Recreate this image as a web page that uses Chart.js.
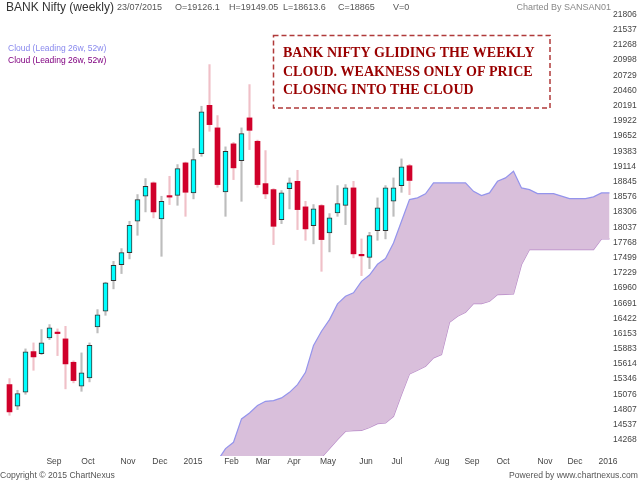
<!DOCTYPE html>
<html>
<head>
<meta charset="utf-8">
<script src="https://cdn.jsdelivr.net/npm/chart.js@4.4.1/dist/chart.umd.min.js"></script>
<style>
  html, body { margin: 0; padding: 0; background: #fff; }
  canvas { display: block; }
</style>
</head>
<body>
<canvas id="chart" width="640" height="480"></canvas>
<script>
// weekly candles, index 0 = first week shown (Aug 2014), last = 23/07/2015
const opens = [15250, 14866, 15114, 15834, 15799, 16077, 16171, 16059, 15645, 15220,
  15368, 16272, 16548, 17092, 17375, 17588, 18142, 18585, 18822, 18184,
  18590, 18602, 19176, 18645, 19341, 20196, 19796, 18663, 19513, 19217,
  19973, 19559, 18809, 18703, 18172, 18721, 18850, 18397, 18066, 18420,
  17936, 18291, 18425, 18733, 17555, 17504, 17977, 17977, 18496, 18774, 19126.1];
const highs = [15356, 15149, 15882, 15988, 16224, 16312, 16236, 16282, 15670, 15811,
  15988, 16578, 17062, 17433, 17658, 18142, 18615, 18898, 18840, 18585,
  18939, 19146, 19190, 19429, 20179, 20917, 20014, 19460, 19540, 19796,
  20563, 19580, 19394, 18720, 18686, 18910, 19045, 18496, 18438, 18438,
  18278, 18774, 18792, 18850, 17830, 17947, 18556, 18774, 18910, 19247, 19149.05];
const lows = [14706, 14807, 15078, 15503, 15781, 16047, 15763, 15174, 15280, 15131,
  15298, 16165, 16477, 16945, 17216, 17476, 17894, 18308, 18202, 17522,
  18438, 18425, 18230, 18539, 19293, 19736, 18744, 18230, 18880, 18496,
  19412, 18744, 18544, 17729, 18101, 18361, 17995, 17805, 17742, 17256,
  17600, 18230, 18083, 17494, 17180, 17304, 17805, 17830, 18230, 18655, 18613.6];
const closes = [14766, 15090, 15829, 15740, 15988, 16254, 16153, 15616, 15321, 15457,
  15946, 16484, 17051, 17363, 17588, 18071, 18526, 18762, 18308, 18496,
  18570, 19075, 18656, 19235, 20079, 19854, 18792, 19382, 19088, 19695,
  19753, 18792, 18627, 18053, 18645, 18822, 18349, 18007, 18361, 17818,
  18202, 18455, 18733, 17565, 17530, 17889, 18379, 18733, 18733, 19105, 18865];

// cloud (leading spans), first value sits on week index cloudStart
const cloudStart = 26;
const cloudTop = [13900, 14116, 14228, 14642, 14748, 14878, 14954, 14966, 15014, 15113,
  15250, 15467, 15941, 16194, 16401, 16679, 16814, 16874, 17079, 17190,
  17380, 17481, 17759, 18142, 18526, 18556, 18627, 18822, 18822, 18822,
  18822, 18822, 18673, 18597, 18645, 18850, 18910, 19027, 18733, 18703,
  18632, 18632, 18632, 18588, 18544, 18544, 18544, 18574, 18645, 18645];
const cloudBottom = [13580, 13600, 13620, 13650, 13680, 13700, 13720, 13740, 13760, 13780,
  13800, 13850, 13900, 13960, 14116, 14276, 14423, 14435, 14440, 14490,
  14559, 14571, 14688, 15073, 15439, 15503, 15574, 15723, 15781, 16353,
  16459, 16530, 16684, 16684, 16725, 16844, 16849, 16856, 17375, 17641,
  17641, 17641, 17641, 17641, 17641, 17641, 17641, 17641, 17830, 17830];

// month labels and where they sit (in weeks)
const monthLabels = ["Sep", "Oct", "Nov", "Dec", "2015", "Feb", "Mar", "Apr", "May", "Jun",
  "Jul", "Aug", "Sep", "Oct", "Nov", "Dec", "2016"];
const monthPos = [5.56, 9.81, 14.81, 18.8, 22.94, 27.75, 31.69, 35.56, 39.81, 44.56,
  48.44, 54.06, 57.81, 61.69, 66.94, 70.69, 74.81];

const yTickLabels = ["21806", "21537", "21268", "20998", "20729", "20460", "20191", "19922",
  "19652", "19383", "19114", "18845", "18576", "18306", "18037", "17768", "17499", "17229",
  "16960", "16691", "16422", "16153", "15883", "15614", "15346", "15076", "14807", "14537", "14268"];

const axisFont = { family: "'Liberation Sans Narrow', 'Liberation Sans', Arial, sans-serif", size: 8.5 };

// split candles into up / down sets
const upWicks = [], upBodies = [], downWicks = [], downBodies = [];
opens.forEach((o, i) => {
    const c = closes[i];
    const wick = { x: i, y: [lows[i], highs[i]] };
    if (c >= o) {
        upWicks.push(wick);
        upBodies.push({ x: i, y: [o, c] });
    } else {
        downWicks.push(wick);
        downBodies.push({ x: i, y: [c, o] });
    }
});

const cloudTopPts = cloudTop.map((v, k) => ({ x: cloudStart + k, y: v }));
const cloudBottomPts = cloudBottom.map((v, k) => ({ x: cloudStart + k, y: v }));

const overlayText = {
    id: "overlayText",
    afterDraw(chart) {
        const ctx = chart.ctx;
        ctx.save();
        ctx.textBaseline = "middle";
        ctx.textAlign = "left";

        // header
        ctx.fillStyle = "#333";
        ctx.font = "12px 'Liberation Sans Narrow', 'Liberation Sans', sans-serif";
        ctx.fillText("BANK Nifty (weekly)", 6, 8);
        ctx.fillStyle = "#555";
        ctx.font = "9px 'Liberation Sans', Arial, sans-serif";
        ctx.fillText("23/07/2015", 117, 8);
        ctx.fillText("O=19126.1", 175, 8);
        ctx.fillText("H=19149.05", 229, 8);
        ctx.fillText("L=18613.6", 283, 8);
        ctx.fillText("C=18865", 338, 8);
        ctx.fillText("V=0", 393, 8);
        ctx.fillStyle = "#888";
        ctx.textAlign = "right";
        ctx.fillText("Charted By SANSAN01", 611, 8);

        // legend
        ctx.textAlign = "left";
        ctx.font = "8.5px 'Liberation Sans', Arial, sans-serif";
        ctx.fillStyle = "#8888ee";
        ctx.fillText("Cloud (Leading 26w, 52w)", 8, 49);
        ctx.fillStyle = "#800080";
        ctx.fillText("Cloud (Leading 26w, 52w)", 8, 61);

        // note box
        ctx.strokeStyle = "#b03a3a";
        ctx.lineWidth = 1.5;
        ctx.setLineDash([5, 3]);
        ctx.strokeRect(273.5, 35.5, 276.5, 72.5);
        ctx.setLineDash([]);
        ctx.fillStyle = "#990000";
        ctx.font = "bold 14px 'Liberation Serif', 'Times New Roman', serif";
        ctx.fillText("BANK NIFTY GLIDING THE WEEKLY", 283, 53.5);
        ctx.fillText("CLOUD. WEAKNESS ONLY OF PRICE", 283, 72);
        ctx.fillText("CLOSING INTO THE CLOUD", 283, 90.5);

        // footer
        ctx.fillStyle = "#555";
        ctx.font = "8.6px 'Liberation Sans', Arial, sans-serif";
        ctx.fillText("Copyright \u00a9 2015 ChartNexus", 0, 476);
        ctx.textAlign = "right";
        ctx.fillText("Powered by www.chartnexus.com", 638, 476);
        ctx.restore();
    }
};

new Chart(document.getElementById("chart"), {
    type: "bar",
    data: {
        datasets: [
            {
                type: "line",
                data: cloudTopPts,
                borderColor: "#9494ec",
                borderWidth: 1.2,
                backgroundColor: "#d9bfdb",
                fill: "+1",
                pointRadius: 0,
                tension: 0,
                order: 3
            },
            {
                type: "line",
                data: cloudBottomPts,
                borderColor: "#b88ac8",
                borderWidth: 1.2,
                fill: false,
                pointRadius: 0,
                tension: 0,
                order: 3
            },
            {
                data: upWicks,
                backgroundColor: "#bdbdbd",
                barThickness: 1.5,
                grouped: false,
                order: 2
            },
            {
                data: downWicks,
                backgroundColor: "#f0c0c8",
                barThickness: 1.5,
                grouped: false,
                order: 2
            },
            {
                data: upBodies,
                backgroundColor: "#00ffff",
                borderColor: "#333",
                borderWidth: 1,
                borderSkipped: false,
                barThickness: 5,
                minBarLength: 1,
                grouped: false,
                order: 1
            },
            {
                data: downBodies,
                backgroundColor: "#d0002a",
                borderWidth: 0,
                barThickness: 5,
                minBarLength: 1.5,
                grouped: false,
                order: 1
            }
        ]
    },
    options: {
        responsive: false,
        animation: false,
        layout: { padding: 0 },
        plugins: {
            legend: { display: false },
            tooltip: { enabled: false }
        },
        scales: {
            x: {
                type: "linear",
                offset: false,
                min: -1.1875,
                max: 75.1875,
                grid: { display: false, drawTicks: false },
                border: { display: false },
                afterBuildTicks: (axis) => {
                    axis.ticks = monthPos.map(v => ({ value: v }));
                },
                afterFit: (axis) => { axis.height = 24; },
                ticks: {
                    autoSkip: false,
                    maxRotation: 0,
                    padding: 1,
                    color: "#444",
                    font: axisFont,
                    callback: (value, index) => monthLabels[index]
                }
            },
            y: {
                type: "linear",
                position: "right",
                min: 13985,
                max: 22061,
                grid: { display: false, drawTicks: false },
                border: { display: false },
                afterBuildTicks: (axis) => {
                    axis.ticks = yTickLabels.map(t => ({ value: Number(t) }));
                },
                afterFit: (axis) => {
                    axis.width = 29;
                    axis.paddingTop = 0;
                    axis.paddingBottom = 0;
                },
                ticks: {
                    autoSkip: false,
                    padding: 2,
                    color: "#444",
                    font: axisFont,
                    callback: (value, index) => yTickLabels[index]
                }
            }
        }
    },
    plugins: [overlayText]
});
</script>
</body>
</html>
